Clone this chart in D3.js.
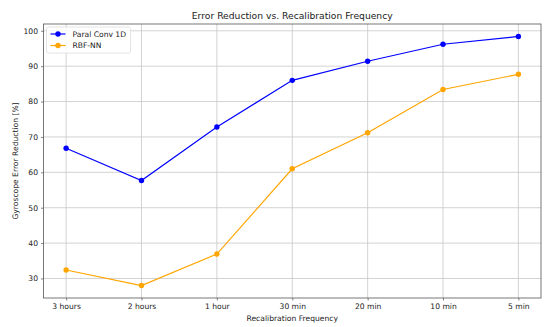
<!DOCTYPE html>
<html>
<head>
<meta charset="utf-8">
<script src="https://cdn.jsdelivr.net/npm/d3@7"></script>
<style>
  body { margin: 0; background: #fff; }
  text { font-family: "DejaVu Sans", sans-serif; fill: #222; }
</style>
</head>
<body>
<div id="chart"></div>
<script>
// data
const categories = ["3 hours", "2 hours", "1 hour", "30 min", "20 min", "10 min", "5 min"];
const convValues = [66.8, 57.7, 72.8, 86.0, 91.4, 96.2, 98.4];
const rbfValues = [32.4, 28.0, 36.9, 61.0, 71.2, 83.4, 87.7];
const yTicks = [30, 40, 50, 60, 70, 80, 90, 100];
const seriesNames = ["Paral Conv 1D", "RBF-NN"];
const seriesColors = ["#0000ff", "#ffa500"];

const width = 550, height = 327;
const margin = { top: 24, right: 9, bottom: 29, left: 43.5 };
const innerW = width - margin.left - margin.right;
const innerH = height - margin.top - margin.bottom;

const svg = d3.select("#chart").append("svg")
  .attr("width", width)
  .attr("height", height);

const g = svg.append("g").attr("transform", `translate(${margin.left},${margin.top})`);

// matplotlib style 5% padding
const allVals = convValues.concat(rbfValues);
const lo = d3.min(allVals), hi = d3.max(allVals);
const pad = (hi - lo) * 0.05;

const x = d3.scaleLinear().domain([-0.3, categories.length - 1 + 0.3]).range([0, innerW]);
const y = d3.scaleLinear().domain([lo - pad, hi + pad]).range([innerH, 0]);

// grid
g.append("g").selectAll("line")
  .data(categories)
  .join("line")
  .attr("x1", (d, i) => x(i)).attr("x2", (d, i) => x(i))
  .attr("y1", 0).attr("y2", innerH)
  .attr("stroke", "#c8c8c8").attr("stroke-width", 0.8);

g.append("g").selectAll("line")
  .data(yTicks)
  .join("line")
  .attr("x1", 0).attr("x2", innerW)
  .attr("y1", d => y(d)).attr("y2", d => y(d))
  .attr("stroke", "#c8c8c8").attr("stroke-width", 0.8);

// axes
const xAxis = g.append("g")
  .attr("transform", `translate(0,${innerH})`)
  .call(d3.axisBottom(x).tickValues(d3.range(categories.length)).tickFormat(i => categories[i]).tickSize(2.5).tickPadding(3));
const yAxis = g.append("g")
  .call(d3.axisLeft(y).tickValues(yTicks).tickSize(2.5).tickPadding(3));

[xAxis, yAxis].forEach(a => {
  a.select(".domain").remove();
  a.selectAll(".tick line").attr("stroke", "#333").attr("stroke-width", 0.6);
  a.selectAll(".tick text").attr("font-size", "7.6px").attr("fill", "#222")
    .attr("font-family", "DejaVu Sans, sans-serif");
});

// frame
g.append("rect")
  .attr("width", innerW).attr("height", innerH)
  .attr("fill", "none").attr("stroke", "#555").attr("stroke-width", 0.8);

// series
const series = [convValues, rbfValues];
const line = d3.line().x((d, i) => x(i)).y(d => y(d));

series.forEach((vals, s) => {
  g.append("path")
    .datum(vals)
    .attr("d", line)
    .attr("fill", "none")
    .attr("stroke", seriesColors[s])
    .attr("stroke-width", 1.2);
  g.append("g").selectAll("circle")
    .data(vals)
    .join("circle")
    .attr("cx", (d, i) => x(i))
    .attr("cy", d => y(d))
    .attr("r", 2.7)
    .attr("fill", seriesColors[s]);
});

// titles
svg.append("text")
  .attr("x", margin.left + innerW / 2).attr("y", 19)
  .attr("text-anchor", "middle")
  .attr("font-size", "9.2px")
  .text("Error Reduction vs. Recalibration Frequency");

svg.append("text")
  .attr("x", margin.left + innerW / 2).attr("y", 320.5)
  .attr("text-anchor", "middle")
  .attr("font-size", "7.6px")
  .text("Recalibration Frequency");

svg.append("text")
  .attr("transform", `translate(17.5,${margin.top + innerH / 2}) rotate(-90)`)
  .attr("text-anchor", "middle")
  .attr("font-size", "7.6px")
  .text("Gyroscope Error Reduction [%]");

// legend
const legend = g.append("g").attr("transform", "translate(3,3)");
legend.append("rect")
  .attr("width", 84).attr("height", 26).attr("rx", 2)
  .attr("fill", "#fff").attr("fill-opacity", 0.8)
  .attr("stroke", "#ddd").attr("stroke-width", 0.8);
seriesNames.forEach((name, i) => {
  const row = legend.append("g").attr("transform", `translate(4,${7 + i * 11.5})`);
  row.append("line").attr("x1", 0).attr("x2", 15).attr("stroke", seriesColors[i]).attr("stroke-width", 1.2);
  row.append("circle").attr("cx", 7.5).attr("r", 2.7).attr("fill", seriesColors[i]);
  row.append("text").attr("x", 22).attr("y", 2.8).attr("font-size", "7.6px").text(name);
});
</script>
</body>
</html>
